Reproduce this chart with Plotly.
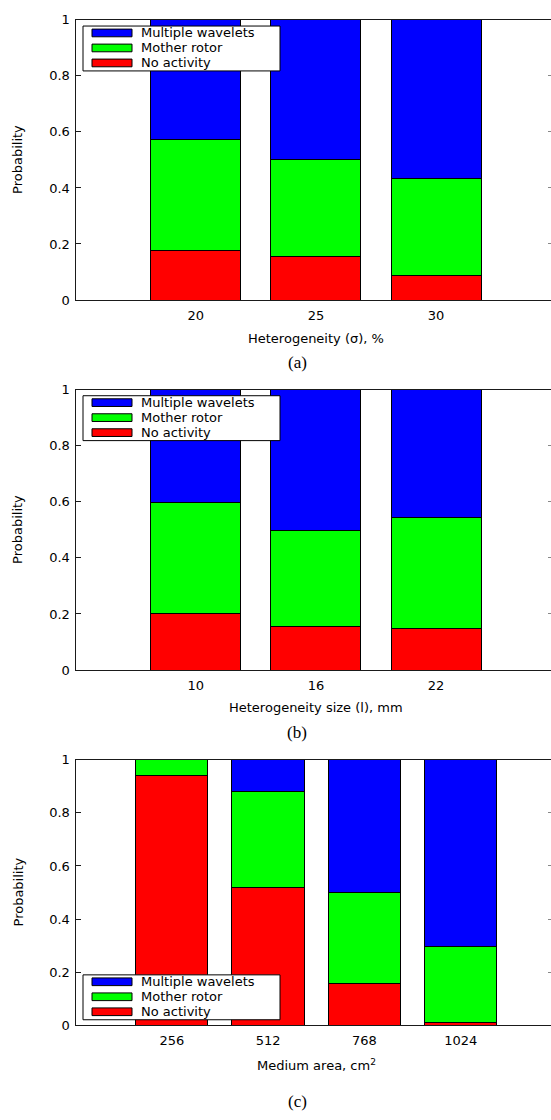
import plotly.graph_objects as go

# ---------------- data ----------------
cats_a = ["20", "25", "30"]
no_activity_a = [0.177, 0.156, 0.088]
mother_rotor_a = [0.395, 0.344, 0.347]
multiple_wavelets_a = [0.428, 0.500, 0.565]

cats_b = ["10", "16", "22"]
no_activity_b = [0.200, 0.156, 0.149]
mother_rotor_b = [0.398, 0.342, 0.395]
multiple_wavelets_b = [0.402, 0.502, 0.456]

cats_c = ["256", "512", "768", "1024"]
no_activity_c = [0.941, 0.519, 0.156, 0.011]
mother_rotor_c = [0.059, 0.363, 0.343, 0.284]
multiple_wavelets_c = [0.000, 0.118, 0.501, 0.705]

xtitles = ["Heterogeneity (σ), %", "Heterogeneity size (l), mm", "Medium area, cm<sup>2</sup>"]
captions = ["(a)", "(b)", "(c)"]
series_names = ["No activity", "Mother rotor", "Multiple wavelets"]
series_colors = ["#ff0000", "#00ff00", "#0000ff"]
yticks = [0, 0.2, 0.4, 0.6, 0.8, 1]
yticktext = ["0", "0.2", "0.4", "0.6", "0.8", "1"]

# ---------------- layout geometry (pixels) ----------------
W, H = 551, 1120
PX_LEFT = 75.5
panels = [
    dict(cats=cats_a, vals=[no_activity_a, mother_rotor_a, multiple_wavelets_a],
         top=13, bottom=297, unit=120.2, title_y=335.5, cap_y=360, legend_top=19.3),
    dict(cats=cats_b, vals=[no_activity_b, mother_rotor_b, multiple_wavelets_b],
         top=388, bottom=672, unit=120.2, title_y=710.5, cap_y=735, legend_top=394),
    dict(cats=cats_c, vals=[no_activity_c, mother_rotor_c, multiple_wavelets_c],
         top=763, bottom=1032, unit=96.3, title_y=1072, cap_y=1109, legend_top=981),
]


def px(x):
    return x / W


def py(y):
    return 1 - y / H


FONT = "DejaVu Sans, Verdana, sans-serif"
FS = 13
AXCOL = "#1a1a1a"

fig = go.Figure()
layout = dict(
    width=W, height=H, autosize=False,
    margin=dict(l=0, r=0, t=0, b=0),
    paper_bgcolor="white", plot_bgcolor="white",
    barmode="stack", showlegend=False,
    font=dict(family=FONT, size=FS, color="black"),
    shapes=[], annotations=[],
)

for i, p in enumerate(panels):
    n = i + 1
    xa = "x" if n == 1 else f"x{n}"
    ya = "y" if n == 1 else f"y{n}"
    for name, col, v in zip(series_names, series_colors, p["vals"]):
        fig.add_trace(go.Bar(
            x=p["cats"], y=v, name=name, width=0.75,
            marker=dict(color=col, line=dict(color="black", width=1)),
            xaxis=xa, yaxis=ya,
        ))
    span = (W - PX_LEFT) / p["unit"]
    layout[f"xaxis{n}"] = dict(
        domain=[px(PX_LEFT), 1], anchor=ya, type="category",
        categoryorder="array", categoryarray=p["cats"],
        range=[-1, -1 + span], showline=True, linecolor=AXCOL, linewidth=1,
        mirror=True, ticks="", showgrid=False, zeroline=False,
        tickfont=dict(size=FS, family=FONT), fixedrange=True,
        ticklabelstandoff=3,
    )
    layout[f"yaxis{n}"] = dict(
        domain=[py(p["bottom"]), py(p["top"])], anchor=xa,
        range=[0, 1], tickvals=yticks, ticktext=yticktext,
        showline=True, linecolor=AXCOL, linewidth=1, mirror=False,
        ticks="inside", ticklen=5, tickcolor=AXCOL, showgrid=False,
        zeroline=False, tickfont=dict(size=FS, family=FONT), fixedrange=True,
        ticklabelstandoff=2,
    )
    # right-side mirrored ticks
    layout[f"yaxis{n + 3}"] = dict(
        overlaying=ya, anchor=xa, side="right", range=[0, 1],
        tickvals=yticks, ticks="inside", ticklen=3, tickcolor="#888",
        showticklabels=False, showline=False, showgrid=False, zeroline=False,
        fixedrange=True,
    )
    fig.add_trace(go.Bar(x=[p["cats"][0]], y=[0], xaxis=xa, yaxis=f"y{n + 3}",
                         showlegend=False, hoverinfo="skip",
                         marker=dict(color="rgba(0,0,0,0)")))

    ymid = (p["top"] + p["bottom"]) / 2
    layout["annotations"] += [
        dict(text="Probability", x=px(18), y=py(ymid), xref="paper", yref="paper",
             textangle=-90, showarrow=False, xanchor="center", yanchor="middle",
             font=dict(size=FS, family=FONT)),
        dict(text=xtitles[i], x=px(316), y=py(p["title_y"]), xref="paper", yref="paper",
             showarrow=False, xanchor="center", yanchor="middle",
             font=dict(size=FS, family=FONT)),
        dict(text=captions[i], x=px(297), y=py(p["cap_y"]), xref="paper", yref="paper",
             showarrow=False, xanchor="center", yanchor="middle",
             font=dict(size=17, family="Liberation Serif, DejaVu Serif, serif")),
    ]

    # legend box drawn manually (gnuplot-style wide swatches)
    lt = p["legend_top"]
    layout["shapes"].append(dict(
        type="rect", xref="paper", yref="paper",
        x0=px(83), x1=px(280), y0=py(lt), y1=py(lt + 45.5),
        fillcolor="white", line=dict(color="black", width=1), layer="above"))
    for k, (name, col) in enumerate(zip(series_names[::-1], series_colors[::-1])):
        cy = lt + 7 + 15.2 * k
        layout["shapes"].append(dict(
            type="rect", xref="paper", yref="paper",
            x0=px(92), x1=px(132), y0=py(cy - 3.9), y1=py(cy + 3.9),
            fillcolor=col, line=dict(color="black", width=1), layer="above"))
        layout["annotations"].append(dict(
            text=name, x=px(139), y=py(cy), xref="paper", yref="paper",
            showarrow=False, xanchor="left", yanchor="middle",
            font=dict(size=FS, family=FONT)))

fig.update_layout(**layout)
fig.write_html(
    "out.html",
    config={"responsive": False, "displayModeBar": False},
    post_script="document.body.style.margin='0';document.body.style.overflow='hidden';",
)
